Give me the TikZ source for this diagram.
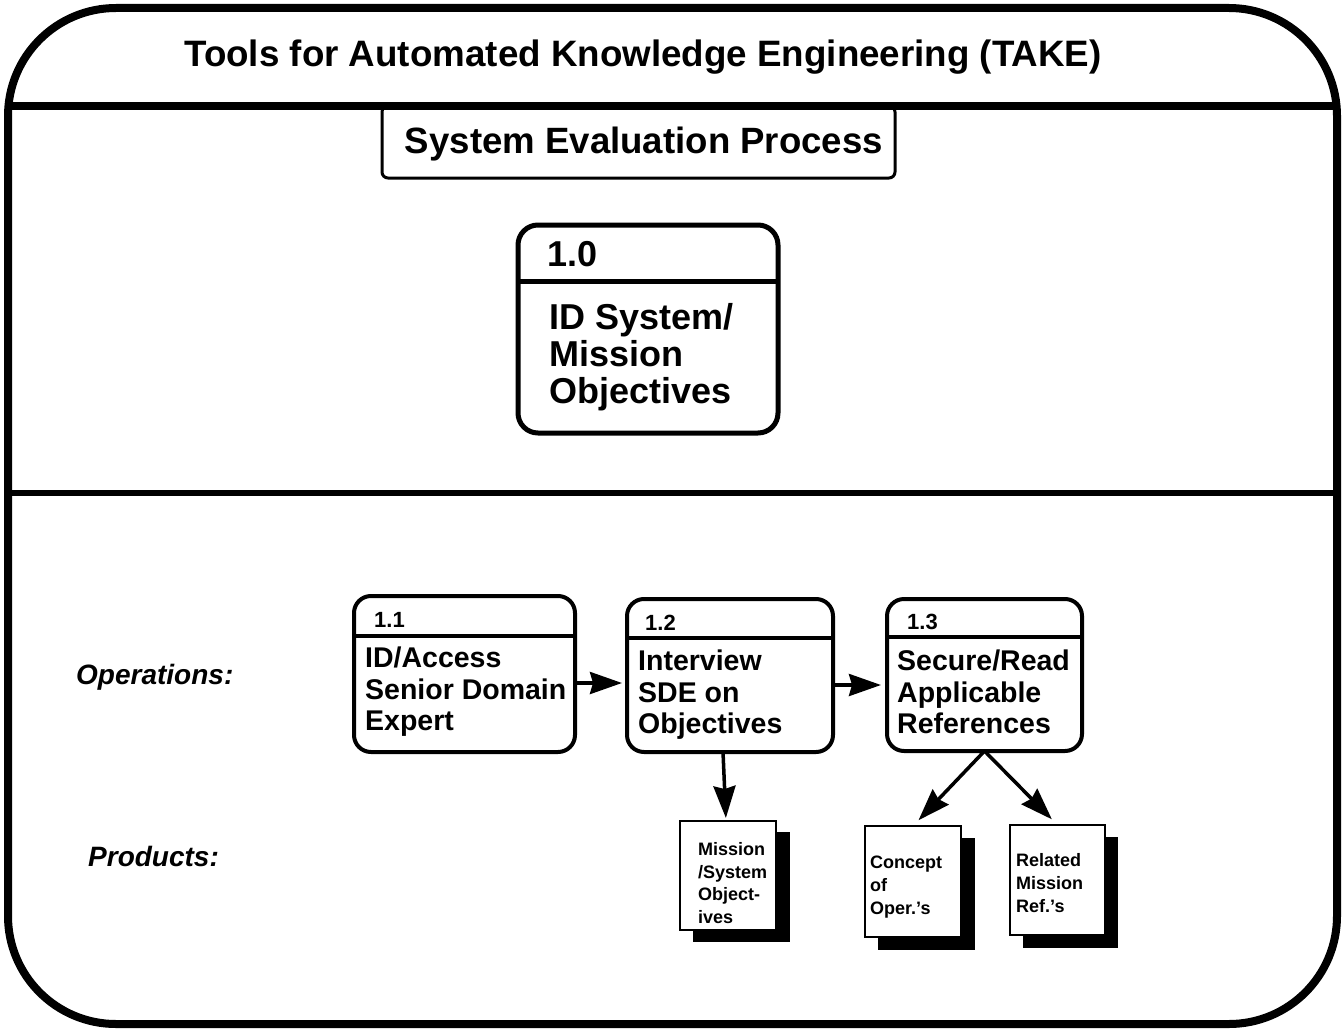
\documentclass[tikz,border=0pt]{standalone}
\usepackage{fontspec}
\setmainfont{Liberation Sans}
\usepackage{tikz}
\usetikzlibrary{arrows.meta,calc,positioning}

\begin{document}
\begin{tikzpicture}[
		x=1pt, y=-1pt,
		frame/.style={rectangle, draw, line width=8pt, rounded corners=108pt, outer sep=0pt, inner sep=0pt, minimum width=1329pt, minimum height=1016pt},
		bigbox/.style={rectangle, draw, fill=white, line width=5pt, rounded corners=20pt, outer sep=0pt, inner sep=0pt},
		opbox/.style={rectangle, draw, fill=white, line width=4pt, rounded corners=17pt, outer sep=0pt, inner sep=0pt},
		sheet/.style={rectangle, draw, fill=white, line width=2.5pt, outer sep=0pt, inner sep=0pt},
		shade/.style={rectangle, fill=black, outer sep=0pt, inner sep=0pt},
		label/.style 2 args={anchor=west, inner sep=0pt, align=left, font=\bfseries\fontsize{#1}{#2}\selectfont},
		flow/.style={-{Stealth[length=32pt, width=22pt, inset=3pt]}, line width=3.5pt},
		]

		% Frame and rules
		\useasboundingbox (0,0) rectangle (1343,1030);
		\fill[white] (0,0) rectangle (1343,1030);
		\node[frame] (outer) at (672.5,516) {};
		\coordinate (rule1) at (0,106);
		\coordinate (rule2) at (0,493);
		\node[rectangle, draw, fill=white, line width=3pt, rounded corners=6pt, minimum width=513pt, minimum height=72pt, outer sep=0pt, inner sep=0pt] (process) at (638.5,142) {};
		\draw[line width=8pt] (outer.west |- rule1) -- (outer.east |- rule1);
		\draw[line width=6pt] (outer.west |- rule2) -- (outer.east |- rule2);

		\node[inner sep=0pt, font=\bfseries\fontsize{36.75}{40}\selectfont] (title) at (643,57) {Tools for Automated Knowledge Engineering (TAKE)};
		\node[inner sep=0pt, font=\bfseries\fontsize{36.6}{40}\selectfont] (subtitle) at (644,144) {System Evaluation Process};

		% Box 1.0
		\node[bigbox, minimum width=260pt, minimum height=208pt] (box10) at (648,329) {};
		\coordinate (hdr10) at (0,281);
		\draw[line width=5pt] (box10.west |- hdr10) -- (box10.east |- hdr10);
		\node[label={36}{37}] (num10) at (547,254) {1.0};
		\node[label={36}{37}] (txt10) at (549,357) {ID System/\\Mission\\Objectives};

		% Operations
		\node[anchor=west, inner sep=0pt, font=\bfseries\itshape\fontsize{28}{30}\selectfont] (operations) at (76,677) {Operations:};
		\node[opbox, minimum width=221pt, minimum height=156pt] (box11) at (464.5,674) {};
		\node[opbox, minimum width=206pt, minimum height=153pt] (box12) at (730,675.5) {};
		\node[opbox, minimum width=195pt, minimum height=152pt] (box13) at (984.5,675) {};
		\coordinate (hdr11) at (0,636);
		\coordinate (hdr12) at (0,638);
		\coordinate (hdr13) at (0,637);
		\draw[line width=4pt] (box11.west |- hdr11) -- (box11.east |- hdr11);
		\draw[line width=4pt] (box12.west |- hdr12) -- (box12.east |- hdr12);
		\draw[line width=4pt] (box13.west |- hdr13) -- (box13.east |- hdr13);
		\node[label={22}{24}] (num11) at (374,620) {1.1};
		\node[label={22}{24}] (num12) at (645,623) {1.2};
		\node[label={22}{24}] (num13) at (907,622) {1.3};
		\node[label={28.5}{31.5}] (txt11) at (365,692) {ID/Access\\Senior Domain\\Expert};
		\node[label={28.5}{31.5}] (txt12) at (638,695) {Interview\\SDE on\\Objectives};
		\node[label={28.5}{31.5}] (txt13) at (897,692) {Secure/Read\\Applicable\\References};

		% Products
		\node[anchor=west, inner sep=0pt, font=\bfseries\itshape\fontsize{28}{30}\selectfont] (products) at (88,856) {Products:};
		\node[shade, minimum width=97pt, minimum height=110pt] (shade1) at (741,887) {};
		\node[shade, minimum width=97pt, minimum height=112pt] (shade2) at (926,894) {};
		\node[shade, minimum width=95pt, minimum height=111pt] (shade3) at (1070,892) {};
		\node[sheet, minimum width=96pt, minimum height=109pt] (doc1) at (728,875.5) {};
		\node[sheet, minimum width=96pt, minimum height=111pt] (doc2) at (913,881.5) {};
		\node[sheet, minimum width=95pt, minimum height=110pt] (doc3) at (1057.5,880) {};
		\node[label={18}{22.7}] (txtdoc1) at (698,883) {Mission\\/System\\Object-\\ives};
		\node[label={18}{23}] (txtdoc2) at (870,887) {Concept\\of\\Oper.'s};
		\node[label={18}{23}] (txtdoc3) at (1016,883) {Related\\Mission\\Ref.'s};

		% Connectors
		\coordinate (row1) at (0,683);
		\coordinate (row2) at (0,685);
		\draw[flow, shorten >=5pt] (box11.east |- row1) -- (box12.west |- row1);
		\draw[flow, shorten >=6pt] (box12.east |- row2) -- (box13.west |- row2);
		\draw[flow, shorten >=3pt] ($(box12.south)+(-7,0)$) -- ($(doc1.north)+(-2,0)$);
		\draw[flow, shorten >=8pt] (box13.south) -- (doc2.north);
		\draw[flow, shorten >=8pt] (box13.south) -- (doc3.north);
	\end{tikzpicture}
\end{document}
